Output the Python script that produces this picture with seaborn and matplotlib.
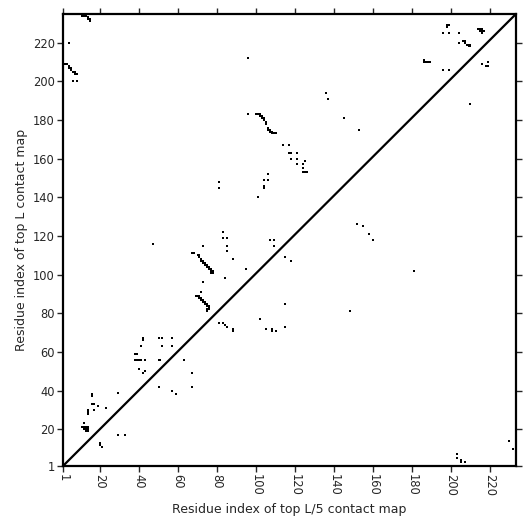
import matplotlib
matplotlib.use("Agg")
import matplotlib.pyplot as plt
import seaborn as sns
import pandas as pd

sns.set_style("white")
plt.rcParams['font.family'] = ['DejaVu Sans']

# top L contact map (upper triangle): residue pairs (x, y)
top_l_x = [11, 12, 13, 14, 14, 15, 15, 4,
           1, 2, 3, 4, 4, 5, 5, 6, 7, 7, 8, 6, 8,
           96, 136, 137, 96,
           100, 101, 102, 102, 103, 103, 104, 104, 105, 105, 106, 106, 107, 107, 108, 108, 109, 110,
           145, 153,
           114, 117, 117, 118, 121, 118, 121, 125, 121, 124, 124, 124, 125, 126,
           106, 104, 106, 104, 104, 101, 81, 81,
           83, 83, 85, 85, 85, 88, 107, 109, 109, 95, 84,
           47, 73, 67, 68,
           70, 71, 71, 72, 72, 73, 73, 74, 74, 75, 75, 76, 76, 77, 77, 78, 78, 77,
           73, 72,
           69, 70, 71, 71, 72, 72, 73, 73, 74, 74, 75, 75, 76, 76, 75, 76, 75,
           42, 42, 50, 52, 57, 41, 52, 57, 38, 39,
           38, 39, 40, 41, 43, 50, 51, 63,
           40, 42, 43, 29, 16, 16, 16, 17, 17, 19, 23, 14, 14, 14, 12,
           11, 12, 13, 14, 12, 13, 14, 13, 14,
           198, 198, 199, 196, 199, 204,
           214, 215, 216, 215, 216, 217, 216, 204,
           206, 207, 207, 208, 209, 209, 210, 210,
           186, 186, 187, 188, 189, 196, 199, 216, 219, 218, 219]
top_l_y = [234, 234, 234, 233, 232, 232, 231, 220,
           210, 209, 209, 208, 207, 207, 206, 205, 205, 204, 204, 200, 200,
           212, 194, 191, 183,
           183, 183, 183, 182, 182, 181, 181, 180, 179, 178, 176, 175, 175, 174, 174, 173, 173, 173,
           181, 175,
           167, 167, 163, 163, 163, 160, 160, 159, 157, 157, 155, 153, 153, 153,
           152, 149, 149, 146, 145, 140, 148, 145,
           122, 119, 119, 115, 112, 108, 118, 118, 115, 103, 98,
           116, 115, 111, 111,
           110, 110, 109, 108, 107, 107, 106, 106, 105, 105, 104, 104, 103, 103, 102, 102, 101, 101,
           96, 91,
           89, 89, 89, 88, 88, 87, 87, 86, 86, 85, 85, 84, 84, 83, 82, 82, 81,
           67, 66, 67, 67, 67, 63, 63, 63, 59, 59,
           56, 56, 56, 56, 56, 56, 56, 56,
           51, 49, 50, 39, 38, 37, 33, 33, 30, 32, 31, 30, 29, 28, 23,
           21, 21, 21, 21, 20, 20, 20, 19, 19,
           229, 228, 229, 225, 225, 225,
           227, 227, 227, 226, 226, 226, 225, 220,
           221, 221, 220, 219, 219, 218, 218, 219,
           211, 210, 210, 210, 210, 206, 206, 209, 210, 208, 208]

# top L/5 contact map (lower triangle)
top_l5_x = [210, 115, 118, 152, 155, 158, 160, 115, 148, 181,
            81, 83, 84, 85, 88, 88, 102, 105, 108, 108, 110, 115,
            67, 50, 67, 57, 59, 29, 33, 20, 20, 21,
            203, 203, 205, 205, 207, 230, 232]
top_l5_y = [188, 109, 107, 126, 125, 121, 118, 85, 81, 102,
            75, 75, 74, 73, 72, 71, 77, 72, 72, 71, 71, 73,
            49, 42, 42, 40, 38, 17, 17, 13, 12, 11,
            7, 5, 4, 3, 3, 14, 10]

x_max = 233.3
y_max = 234.8
ticks = [1, 20, 40, 60, 80, 100, 120, 140, 160, 180, 200, 220]

df = pd.DataFrame({'x': top_l_x + top_l5_x, 'y': top_l_y + top_l5_y})

fig = plt.figure(figsize=(5.31, 5.31), dpi=100)
ax = fig.add_axes([0.1186, 0.1224, 0.853, 0.8512])

sns.scatterplot(data=df, x='x', y='y', marker='s', color='black',
                s=2.6, linewidth=0, ax=ax, legend=False)
# diagonal reference line, corner to corner
sns.lineplot(x=[1, x_max], y=[1, y_max], color='black', linewidth=1.6, ax=ax)

ax.set_xlim(1, x_max)
ax.set_ylim(1, y_max)
ax.set_xticks(ticks)
ax.set_yticks(ticks)
ax.set_xticklabels([str(t) for t in ticks], rotation=-90, fontsize=8.3)
ax.set_yticklabels([str(t) for t in ticks], fontsize=8.3)
ax.tick_params(direction='out', length=4, width=1, top=True, right=True,
               bottom=True, left=True, labeltop=False, labelright=False, pad=2)
for sp in ax.spines.values():
    sp.set_linewidth(1.6)
    sp.set_color('black')

ax.set_xlabel('Residue index of top L/5 contact map', fontsize=9, labelpad=5)
ax.set_ylabel('Residue index of top L contact map', fontsize=9, labelpad=3)

fig.savefig('out.png', dpi=100)
